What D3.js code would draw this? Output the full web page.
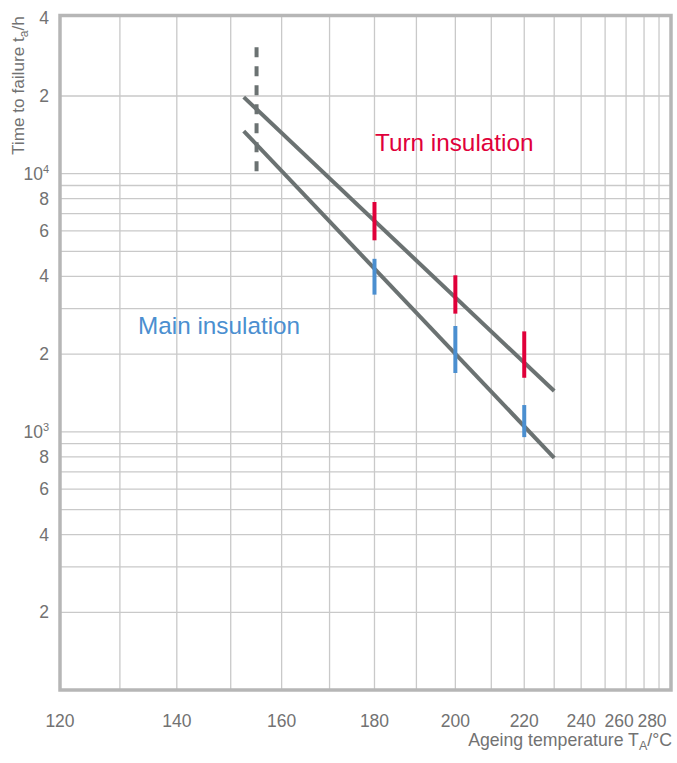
<!DOCTYPE html>
<html>
<head>
<meta charset="utf-8">
<script src="https://cdn.jsdelivr.net/npm/d3@7"></script>
<style>
  body { margin: 0; background: #fff; }
  svg { display: block; font-family: "Liberation Sans", Arial, sans-serif; }
</style>
</head>
<body>
<div id="chart"></div>
<script>
// ageing temperature (°C)
const xTickValues = [120, 140, 160, 180, 200, 220, 240, 260, 280];
const xGridValues = [130, 140, 150, 160, 170, 180, 190, 200, 210, 220, 230, 240, 250, 260, 270, 280];

// time to failure (h), log axis
const yGridValues = [200, 300, 400, 500, 600, 700, 800, 900, 1000, 2000, 3000, 4000, 5000, 6000, 7000, 8000, 9000, 10000, 20000];
const yLabelValues = [200, 400, 600, 800, 1000, 2000, 4000, 6000, 8000, 10000, 20000, 40000];

// regression lines, given by their two ends
const lineTemps = [152.5, 230];
const turnLine = [19800, 1440];
const mainLine = [14630, 793];

// scatter bands of the measurements
const barTemps = [180, 200, 220];
const turnLow = [5520, 2870, 1620];
const turnHigh = [7770, 4040, 2450];
const mainLow = [3400, 1690, 954];
const mainHigh = [4680, 2570, 1270];

// limit temperature marker
const limitTemp = 155;
const limitRange = [9500, 30900];

const width = 677, height = 763;
const plotLeft = 60, plotRight = 671, plotTop = 15.5, plotBottom = 690;

const svg = d3.select("#chart").append("svg")
    .attr("width", width)
    .attr("height", height);

// the printed temperature axis is compressed towards the hot end,
// a square law on (325 - T) fits the grid well
const T_REF = 325;
const xPow = d3.scalePow().exponent(2)
    .domain([T_REF - 120, T_REF - 290])
    .range([plotLeft, plotRight]);
const x = t => xPow(T_REF - t);

const y = d3.scaleLog()
    .domain([100, 41000])
    .range([plotBottom, plotTop]);

const gridColor = "#c9c9c9",
      textColor = "#727272",
      lineColor = "#6b7272",
      red = "#e0003a",
      blue = "#4b8fd0";

// grid
svg.append("g").selectAll("line")
    .data(xGridValues)
    .join("line")
    .attr("x1", d => x(d)).attr("x2", d => x(d))
    .attr("y1", plotTop).attr("y2", plotBottom)
    .attr("stroke", gridColor)
    .attr("stroke-width", 1.3);

svg.append("g").selectAll("line")
    .data(yGridValues)
    .join("line")
    .attr("x1", plotLeft).attr("x2", plotRight)
    .attr("y1", d => y(d)).attr("y2", d => y(d))
    .attr("stroke", gridColor)
    .attr("stroke-width", 1.3);

// frame
svg.append("rect")
    .attr("x", plotLeft).attr("y", plotTop)
    .attr("width", plotRight - plotLeft).attr("height", plotBottom - plotTop)
    .attr("fill", "none")
    .attr("stroke", "#b6b6b6")
    .attr("stroke-width", 3.5);

// y labels
const yLab = svg.append("g").selectAll("text")
    .data(yLabelValues)
    .join("text")
    .attr("x", 49)
    .attr("y", d => Math.max(y(d), 18) + 6)
    .attr("text-anchor", "end")
    .attr("font-size", 17.5)
    .attr("fill", textColor);

yLab.each(function(d){
    const e = Math.round(Math.log10(d));
    const el = d3.select(this);
    if (Math.pow(10, e) === d) {
        el.append("tspan").text("10");
        el.append("tspan").attr("font-size", 11).attr("dy", -7).text(e);
    } else {
        el.text(String(d)[0]);
    }
});

// x labels
svg.append("g").selectAll("text")
    .data(xTickValues)
    .join("text")
    .attr("x", d => x(d) + (d >= 260 ? -7 : 0))
    .attr("y", 727)
    .attr("text-anchor", "middle")
    .attr("font-size", 17.5)
    .attr("fill", textColor)
    .text(d => d);

// axis titles
const xTitle = svg.append("text")
    .attr("x", 672)
    .attr("y", 746)
    .attr("text-anchor", "end")
    .attr("font-size", 17.7)
    .attr("fill", textColor);
xTitle.append("tspan").text("Ageing temperature T");
xTitle.append("tspan").attr("font-size", 12.5).attr("dy", 4).text("A");
xTitle.append("tspan").attr("dy", -4).text("/°C");

const yTitle = svg.append("text")
    .attr("transform", "translate(24,155) rotate(-90)")
    .attr("text-anchor", "start")
    .attr("font-size", 17.2)
    .attr("fill", textColor);
yTitle.append("tspan").text("Time to failure t");
yTitle.append("tspan").attr("font-size", 12).attr("dy", 4).text("a");
yTitle.append("tspan").attr("dy", -4).text("/h");

// limit marker
svg.append("line")
    .attr("x1", x(limitTemp)).attr("x2", x(limitTemp))
    .attr("y1", y(limitRange[1])).attr("y2", y(limitRange[0]))
    .attr("stroke", lineColor)
    .attr("stroke-width", 4)
    .attr("stroke-dasharray", "10 9");

// regression lines
const line = d3.line()
    .x((d, i) => x(lineTemps[i]))
    .y(d => y(d));

[turnLine, mainLine].forEach(vals => {
    svg.append("path")
        .attr("d", line(vals))
        .attr("fill", "none")
        .attr("stroke", lineColor)
        .attr("stroke-width", 4);
});

// scatter bands
function bars(low, high, color){
    svg.append("g").selectAll("line")
        .data(barTemps)
        .join("line")
        .attr("x1", d => x(d)).attr("x2", d => x(d))
        .attr("y1", (d, i) => y(high[i]))
        .attr("y2", (d, i) => y(low[i]))
        .attr("stroke", color)
        .attr("stroke-width", 4);
}
bars(turnLow, turnHigh, red);
bars(mainLow, mainHigh, blue);

// series labels
svg.append("text")
    .attr("x", 375)
    .attr("y", 151)
    .attr("font-size", 24.3)
    .attr("fill", red)
    .text("Turn insulation");

svg.append("text")
    .attr("x", 138)
    .attr("y", 334)
    .attr("font-size", 24.3)
    .attr("fill", blue)
    .text("Main insulation");
</script>
</body>
</html>
